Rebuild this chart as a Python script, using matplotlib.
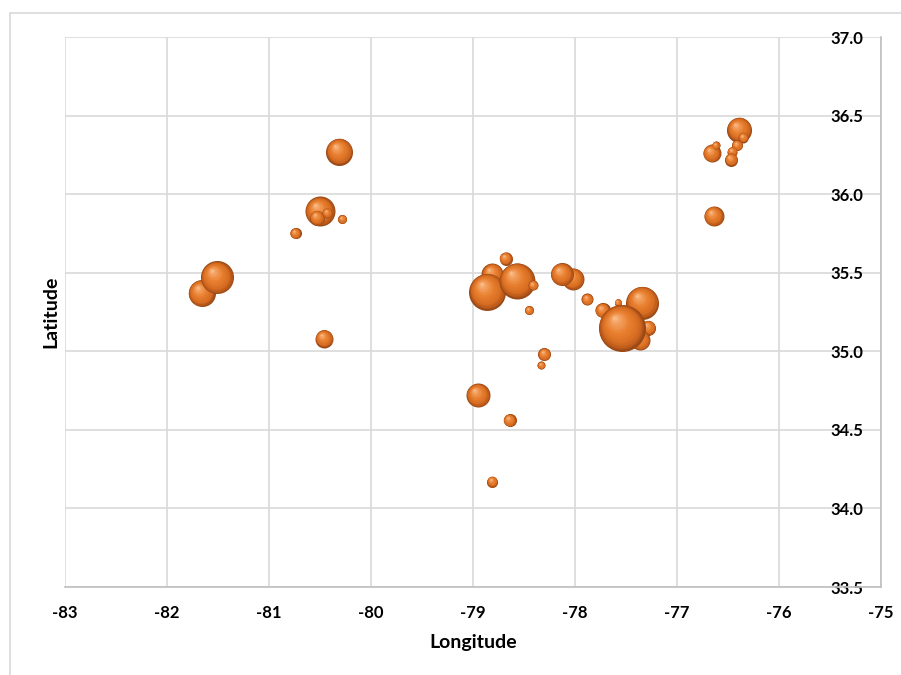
import numpy as np
import matplotlib
matplotlib.use("Agg")
import matplotlib.pyplot as plt
import matplotlib.transforms as mtransforms
from matplotlib.colors import LinearSegmentedColormap
from matplotlib.patches import Rectangle

plt.rcParams['font.family'] = ['Lato', 'DejaVu Sans']

# bubble data: longitude, latitude, bubble weight (area-like)
lon = [-81.66, -81.51, -80.46, -80.74, -80.50, -80.53, -80.43, -80.28, -80.31,
       -76.39, -76.66, -76.35, -76.41, -76.46, -76.62, -76.47, -76.64,
       -78.68, -78.81, -78.86, -78.57, -78.41, -78.45, -78.02, -78.13,
       -77.88, -77.73, -77.58, -77.34, -77.28, -77.36, -77.54,
       -78.30, -78.33, -78.95, -78.64, -78.81]
lat = [35.37, 35.47, 35.08, 35.75, 35.89, 35.85, 35.88, 35.84, 36.27,
       36.41, 36.26, 36.36, 36.31, 36.27, 36.31, 36.22, 35.86,
       35.59, 35.49, 35.38, 35.45, 35.42, 35.26, 35.46, 35.49,
       35.33, 35.26, 35.31, 35.31, 35.15, 35.07, 35.15,
       34.98, 34.91, 34.72, 34.56, 34.17]
weight = [20.3, 30.3, 9.0, 3.4, 25.0, 6.3, 2.8, 2.3, 20.3,
          17.4, 9.0, 2.8, 3.4, 2.8, 1.8, 4.7, 11.1,
          4.7, 13.4, 38.0, 36.0, 2.8, 2.3, 13.4, 14.7,
          4.0, 6.3, 1.4, 30.3, 6.3, 11.1, 61.4,
          4.7, 1.8, 16.0, 4.7, 3.4]

x_ticks = np.arange(-83, -74, 1)
y_ticks = np.arange(33.5, 37.01, 0.5)

fig = plt.figure(figsize=(9.01, 6.75), dpi=100)
ax = fig.add_axes([65/901, 1-587/675, 816/901, 550/675])

# outer chart border
fig.patches.append(Rectangle((10/901, -0.1), 1.2, 1 - 13/675 + 0.1,
                             transform=fig.transFigure, fill=False,
                             edgecolor='#d9d9d9', linewidth=1.2, zorder=0))

shade = LinearSegmentedColormap.from_list(
    'sphere', [(0.0, '#fccb9c'), (0.2, '#f4a263'), (0.5, '#e9802f'),
               (0.8, '#d66c22'), (0.93, '#b9581a'), (1.0, '#9a4a17')])

layers = np.linspace(1.0, 0.05, 18)
for i in range(len(lon)):
    d_pt = 6.0 * np.sqrt(weight[i]) * 0.72
    r = d_pt / 2
    for k, f in enumerate(layers):
        off = (1 - f) * 0.45 * r
        tr = mtransforms.offset_copy(ax.transData, fig=fig, x=-off * 0.75,
                                     y=off, units='points')
        ax.scatter([lon[i]], [lat[i]], s=(d_pt * f) ** 2, color=shade(f),
                   linewidths=0, transform=tr, zorder=3 + i + k * 0.01)

ax.set_xlim(-83, -75)
ax.set_ylim(33.5, 37)
ax.set_xticks(x_ticks)
ax.set_yticks(y_ticks)
ax.set_xticklabels(['%d' % v for v in x_ticks])
ax.set_yticklabels(['%.1f' % v for v in y_ticks])
ax.grid(True, color='#d9d9d9', linewidth=1.2)
ax.set_axisbelow(True)

for s in ['left', 'top']:
    ax.spines[s].set_visible(False)
for s in ['right', 'bottom']:
    ax.spines[s].set_color('#bfbfbf')
    ax.spines[s].set_linewidth(1.2)

ax.yaxis.tick_right()
ax.tick_params(axis='y', length=0, pad=-13, labelsize=12)
for lab in ax.get_yticklabels():
    lab.set_horizontalalignment('right')
    lab.set_fontweight('bold')
ax.tick_params(axis='x', length=0, pad=13, labelsize=12)
for lab in ax.get_xticklabels():
    lab.set_fontweight('bold')

ax.set_xlabel('Longitude', fontsize=14, fontweight='bold', labelpad=9)
ax.yaxis.set_label_position('left')
ax.set_ylabel('Latitude', fontsize=14, fontweight='bold', labelpad=4)

fig.savefig('out.png', dpi=100)
